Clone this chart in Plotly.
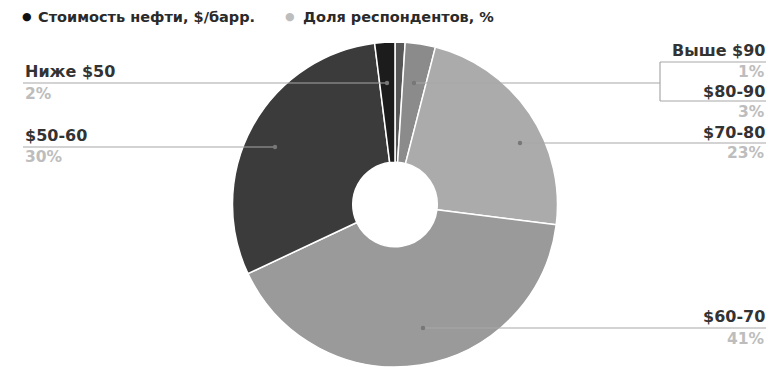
import plotly.graph_objects as go

# ---- data ----
categories = ["Выше $90", "$80-90", "$70-80", "$60-70", "$50-60", "Ниже $50"]
shares = [1, 3, 23, 41, 30, 2]
colors = ["#575757", "#8b8b8b", "#ababab", "#9a9a9a", "#3b3b3b", "#1c1c1c"]
legend_labels = ["Стоимость нефти, $/барр.", "Доля респондентов, %"]

# page has an 8px body margin; figure sized to fit the window
OFF = 8
W, H = 774 - OFF, 367 - OFF


def px(x):
    return (x - OFF) / W


def py(y):
    return 1 - (y - OFF) / H


fig = go.Figure()
fig.add_trace(go.Pie(
    labels=categories,
    values=shares,
    sort=False,
    direction="clockwise",
    rotation=0,
    hole=0.26,
    marker=dict(colors=colors, line=dict(color="white", width=1.5)),
    textinfo="none",
    hoverinfo="label+percent",
    showlegend=False,
    domain=dict(x=[0.0104, 1.0], y=[0.0, 0.9053]),
))

annotations = []
shapes = []

NAME_FONT = dict(family="DejaVu Sans", size=16, color="#333333", weight="bold")
PCT_FONT = dict(family="DejaVu Sans", size=15.5, color="#bdbdbd", weight="bold")
LINE = dict(color="#a8a8a8", width=1.2)


def text(x, y, s, font, anchor):
    annotations.append(dict(x=px(x), y=py(y), xref="paper", yref="paper",
                            text=s, showarrow=False, xanchor=anchor,
                            yanchor="middle", font=font))


def seg(x0, y0, x1, y1):
    shapes.append(dict(type="line", xref="paper", yref="paper",
                       x0=px(x0), y0=py(y0), x1=px(x1), y1=py(y1), line=LINE))


def dot(x, y):
    r = 2.2
    shapes.append(dict(type="circle", xref="paper", yref="paper",
                       x0=px(x - r), x1=px(x + r), y0=py(y + r), y1=py(y - r),
                       fillcolor="#777777", line=dict(width=0)))


pct = {c: f"{v}%" for c, v in zip(categories, shares)}

# left labels
text(23, 72, categories[5], NAME_FONT, "left")
text(23, 94, pct[categories[5]], PCT_FONT, "left")
seg(23, 83, 387, 83)
dot(387, 83)

text(23, 135, categories[4], NAME_FONT, "left")
text(23, 157, pct[categories[4]], PCT_FONT, "left")
seg(23, 147, 275, 147)
dot(275, 147)

# right labels
RX = 767
text(RX, 50, categories[0], NAME_FONT, "right")
text(RX, 72, pct[categories[0]], PCT_FONT, "right")
text(RX, 91, categories[1], NAME_FONT, "right")
text(RX, 112, pct[categories[1]], PCT_FONT, "right")
seg(660, 62, RX, 62)
seg(660, 101, RX, 101)
seg(660, 62, 660, 101)
seg(414, 83, 660, 83)
dot(414, 83)

text(RX, 132, categories[2], NAME_FONT, "right")
text(RX, 153, pct[categories[2]], PCT_FONT, "right")
seg(520, 143, RX, 143)
dot(520, 143)

text(RX, 316, categories[3], NAME_FONT, "right")
text(RX, 339, pct[categories[3]], PCT_FONT, "right")
seg(423, 328, RX, 328)
dot(423, 328)

# legend
LEG_FONT = dict(family="DejaVu Sans", size=14.5, color="#2a2a2a", weight="bold")
annotations.append(dict(x=px(27), y=py(17), xref="paper", yref="paper", text="●",
                        showarrow=False, xanchor="center", yanchor="middle",
                        font=dict(family="DejaVu Sans", size=11, color="#111111")))
text(36, 17, legend_labels[0], LEG_FONT, "left")
annotations.append(dict(x=px(290), y=py(17), xref="paper", yref="paper", text="●",
                        showarrow=False, xanchor="center", yanchor="middle",
                        font=dict(family="DejaVu Sans", size=11, color="#bdbdbd")))
text(301, 17, legend_labels[1], LEG_FONT, "left")

fig.update_layout(
    width=W, height=H,
    margin=dict(l=0, r=0, t=0, b=0),
    paper_bgcolor="white", plot_bgcolor="white",
    annotations=annotations, shapes=shapes,
)

fig.write_html("out.html")
